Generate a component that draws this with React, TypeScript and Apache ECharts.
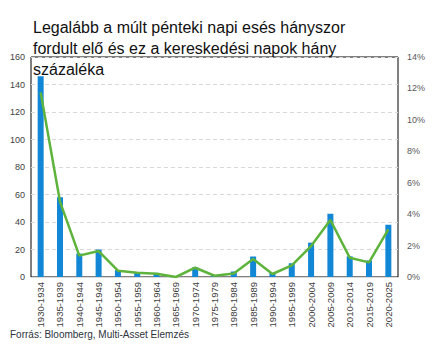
import React, { useEffect, useRef } from "react";
import * as echarts from "echarts";

// Five-year periods
const periods = [
  "1930-1934", "1935-1939", "1940-1944", "1945-1949", "1950-1954",
  "1955-1959", "1960-1964", "1965-1969", "1970-1974", "1975-1979",
  "1980-1984", "1985-1989", "1990-1994", "1995-1999", "2000-2004",
  "2005-2009", "2010-2014", "2015-2019", "2020-2025",
];

// Number of occurrences (left axis)
const occurrences = [146, 58, 17, 20, 5, 3, 3, 0, 7, 1, 4, 15, 3, 10, 25, 46, 15, 12, 38];

// Share of trading days, % (right axis)
const shareOfDays = [11.75, 4.8, 1.36, 1.65, 0.4, 0.27, 0.21, 0, 0.59, 0.08, 0.23, 1.15, 0.19, 0.74, 1.97, 3.63, 1.23, 0.93, 3.03];

const leftTicks = { min: 0, max: 160, interval: 20 };
const rightTicks = { min: 0, max: 14, interval: 2 };

const titleText = "Legalább a múlt pénteki napi esés hányszor\nfordult elő és ez a kereskedési napok hány\nszázaléka";
const sourceText = "Forrás: Bloomberg, Multi-Asset Elemzés";

export default function App() {
  const ref = useRef<HTMLDivElement>(null);

  useEffect(() => {
    document.body.style.margin = "0";
    if (!ref.current) return;
    const chart = echarts.init(ref.current, null, { renderer: "svg" });
    const font = "'Liberation Sans', Arial, sans-serif";
    chart.setOption({
      animation: false,
      backgroundColor: "#ffffff",
      title: {
        text: titleText,
        left: 33,
        top: 17,
        padding: 0,
        textStyle: {
          fontFamily: font,
          fontSize: 16,
          fontWeight: "normal",
          color: "#111111",
          lineHeight: 21,
        },
      },
      graphic: [
        {
          type: "text",
          left: 10,
          top: 329,
          style: {
            text: sourceText,
            fontFamily: font,
            fontSize: 10,
            fill: "#2e3440",
          },
        },
      ],
      grid: {
        left: 31,
        right: 46,
        top: 57,
        bottom: 76,
        show: true,
        borderColor: "#000000",
        borderWidth: 1,
        backgroundColor: "transparent",
      },
      xAxis: {
        type: "category",
        data: periods,
        axisLine: { show: true, lineStyle: { color: "#d9d9d9", width: 1 } },
        axisTick: { show: false },
        axisLabel: {
          rotate: 90,
          interval: 0,
          fontFamily: font,
          fontSize: 9.5,
          color: "#404040",
          margin: 5,
        },
      },
      yAxis: [
        {
          type: "value",
          ...leftTicks,
          axisLine: { show: false },
          axisTick: { show: false },
          splitLine: { show: true, lineStyle: { color: "#d9d9d9", type: [4, 3], width: 1 } },
          axisLabel: { fontFamily: font, fontSize: 9, color: "#404040", margin: 6 },
        },
        {
          type: "value",
          ...rightTicks,
          position: "right",
          axisLine: { show: false },
          axisTick: { show: false },
          splitLine: { show: false },
          axisLabel: {
            fontFamily: font,
            fontSize: 9,
            color: "#595959",
            margin: 9,
            formatter: "{value}%",
          },
        },
      ],
      series: [
        {
          type: "bar",
          data: occurrences,
          yAxisIndex: 0,
          barWidth: 6,
          itemStyle: { color: "#1287d6" },
        },
        {
          type: "line",
          data: shareOfDays,
          yAxisIndex: 1,
          showSymbol: false,
          symbol: "none",
          lineStyle: { color: "#5db33c", width: 2.5 },
          z: 3,
        },
      ],
    });
    return () => chart.dispose();
  }, []);

  return <div ref={ref} style={{ width: 444, height: 353 }} />;
}
